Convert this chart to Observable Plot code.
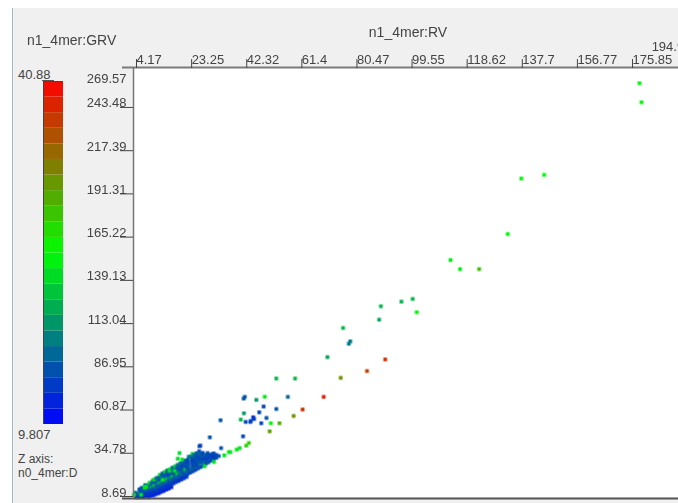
<!DOCTYPE html>
<html><head><meta charset="utf-8">
<script src="https://cdn.jsdelivr.net/npm/d3@7"></script>
<script src="https://cdn.jsdelivr.net/npm/@observablehq/plot@0.6"></script>
<style>
body{margin:0;width:678px;height:503px;position:relative;overflow:hidden;background:#fff;font-family:"Liberation Sans",Arial,sans-serif;color:#444}
#panel{position:absolute;left:12px;top:8px;width:666px;height:495px;background:#f0f0f0;border-left:1px solid #a9b6c8}
.lbl{position:absolute;white-space:nowrap;font-size:13px;line-height:1;color:#444}
</style></head><body>
<div id="panel"></div>
<div id="main" style="position:absolute;left:0;top:0"></div>
<div id="legend" style="position:absolute;left:43px;top:81px"></div>
<div class="lbl" style="left:27px;top:33px;font-size:14px">n1_4mer:GRV</div>
<div class="lbl" style="left:308px;width:200px;text-align:center;top:25px;font-size:14px">n1_4mer:RV</div>
<div class="lbl" style="left:18px;top:68px">40.88</div>
<div style="position:absolute;left:42px;top:80px;width:12px;height:1px;background:#555"></div>
<div class="lbl" style="left:18px;top:428px">9.807</div>
<div class="lbl" style="left:18px;top:453px;font-size:12px">Z axis:</div>
<div class="lbl" style="left:18px;top:467px;font-size:12px">n0_4mer:D</div>
<script>
// axis labels
const xTicks = [4.17, 23.25, 42.32, 61.4, 80.47, 99.55, 118.62, 137.7, 156.77, 175.85, 194.92];
const yTicks = [8.69, 34.78, 60.87, 86.95, 113.04, 139.13, 165.22, 191.31, 217.39, 243.48, 269.57];
const zRange = [9.807, 40.88];

// scattered points [RV, GRV, D]
const sparse = [
[179.3,258.7,25],[180.0,247.2,25],[146.3,203.4,25],[138.4,201.2,25],[133.7,167.7,25],
[113.9,152.0,24],[117.2,146.5,24],[123.8,146.5,29],[100.8,128.5,21],[96.9,126.9,21],
[89.8,124.1,21],[102.2,120.5,25],[89.2,116.0,20],[76.7,111.0,21],[79.2,102.9,17],
[78.7,101.5,17],[71.3,93.4,20],[91.3,92.0,38],[85.0,85.0,37],[75.9,80.9,32],
[53.6,80.5,21],[60.1,80.5,21],[70.0,69.4,39],[46.7,67.6,19],[49.6,69.5,24],
[57.6,69.4,16],[42.3,68.4,15],[42.7,69.4,15],[49.2,63.6,14],[53.6,62.1,15],
[62.7,61.8,38],[42.4,59.5,19],[47.7,60.1,14],[59.6,57.9,32],[45.6,57.1,13],
[45.9,56.1,13],[41.3,55.7,21],[43.0,54.3,14],[44.6,54.3,14],[44.8,54.9,14],
[50.2,56.7,15],[48.4,53.5,14],[51.7,53.5,25],[54.7,53.5,30],[51.3,48.6,31],
[34.3,55.3,15],[30.6,45.0,15],[42.1,45.6,14],[27.3,40.0,14],[44.1,41.6,28],
[43.2,40.0,28],[40.9,38.5,24],[39.9,37.6,24],[37.7,36.1,24],[37.2,36.1,24],
[35.6,34.1,24],[32.0,30.1,24],[28.8,27.6,24],[20.1,35.5,23],[19.5,32.1,23],
[22.6,30.5,14],[24.6,30.5,14],[16.6,24.8,23],[18.4,24.8,23],[14.3,19.4,24],
[8.0,14.7,24],[8.6,15.3,24],[4.3,10.3,24],[6.8,10.3,24],[27.0,39.6,14],
[34.5,38.5,15],[29.8,33.5,14],[31.5,34.7,14]
];

// dense cluster near the origin [RV, GRV, D]
const cluster = [
[5.0,9.0,13],[5.3,10.3,14],[4.8,11.6,16],[5.9,8.8,12],[6.1,9.8,13],[5.7,11.1,15],[6.3,12.5,24],[6.2,13.6,15],
[6.8,9.3,12],[7.0,10.6,13],[6.6,11.9,14],[7.2,13.1,16],[7.0,14.5,14],
[7.6,8.9,12],[7.9,10.0,13],[7.4,11.4,14],[7.8,12.8,15],[8.2,16.2,16],
[8.5,9.5,12],[8.3,10.9,13],[8.7,12.2,14],[8.4,13.7,16],[8.9,14.8,24],
[9.4,8.9,12],[9.2,10.3,13],[9.6,11.6,13],[9.1,13.0,15],[9.5,14.5,17],[9.3,16.1,14],[9.7,17.6,24],
[10.2,9.7,12],[10.0,11.0,13],[10.4,12.5,14],[10.1,13.9,15],[10.6,15.4,22],[10.4,17.0,15],[10.8,18.6,16],
[11.1,10.0,12],[10.9,11.6,13],[11.3,13.2,14],[11.0,14.7,15],[11.4,16.1,24],[11.6,17.8,14],[11.2,19.5,23],
[12.0,10.7,12],[11.8,12.1,13],[12.2,13.6,14],[11.9,15.3,16],[12.3,17.0,18],[12.5,18.7,15],[12.1,20.4,17],
[12.9,11.3,12],[12.7,12.9,13],[13.1,14.4,14],[12.8,16.0,15],[13.2,17.6,24],[13.4,19.3,14],[13.0,21.0,15],[13.3,22.4,24],
[13.7,12.0,12],[13.5,13.5,13],[13.9,15.1,14],[13.6,16.8,16],[14.0,18.5,20],[14.2,20.2,15],[13.9,21.9,16],[14.3,23.3,14],
[14.6,12.6,12],[14.4,14.2,13],[14.8,15.9,14],[14.5,17.4,15],[14.9,19.1,17],[15.1,20.8,14],[14.8,22.5,15],[15.0,24.2,23],
[15.5,13.4,12],[15.3,14.9,13],[15.7,16.5,14],[15.4,18.2,16],[15.8,20.0,24],[16.0,21.7,15],[15.7,23.3,14],[15.9,25.0,16],
[16.4,14.1,12],[16.2,15.7,13],[16.6,17.3,14],[16.3,19.1,15],[16.7,20.6,18],[16.9,22.3,14],[16.6,24.0,15],[16.8,25.8,24],
[17.3,14.9,12],[17.1,16.4,13],[17.5,18.0,14],[17.2,19.7,16],[17.6,21.5,23],[17.8,23.2,15],[17.5,24.9,14],[17.7,26.7,16],
[18.0,17.2,13],[18.4,18.9,14],[18.1,20.5,15],[18.5,22.4,17],[18.7,24.0,14],[18.4,25.8,15],[18.6,27.6,23],
[18.9,18.0,13],[19.3,19.6,14],[19.0,21.4,16],[19.4,23.1,24],[19.6,24.8,15],[19.3,26.6,14],[19.5,28.4,16],
[19.8,18.7,13],[20.2,20.4,14],[19.9,22.1,15],[20.3,24.0,18],[20.5,25.7,14],[20.2,27.5,15],[20.4,29.3,17],
[20.7,19.5,13],[21.1,21.2,14],[20.8,22.9,16],[21.2,24.7,15],[21.4,26.5,15],[21.1,28.3,14],[21.3,30.1,16],[21.0,31.6,24],
[21.6,20.3,13],[22.0,22.0,14],[21.7,23.8,15],[22.1,25.7,23],[22.3,27.4,14],[22.0,29.2,15],[22.2,31.0,16],
[22.5,21.1,13],[22.9,22.8,14],[22.6,24.5,16],[23.0,26.3,15],[23.2,28.1,15],[22.9,29.9,14],[23.1,31.7,15],[23.3,33.3,17],
[23.8,23.7,14],[23.5,25.4,15],
[24.7,24.5,14],[24.4,26.4,16],[24.6,28.2,14],[24.3,30.0,15],[24.5,31.8,14],[24.2,33.6,16],[24.6,35.0,23],
[25.6,25.3,14],[25.3,27.1,15],[25.5,28.9,15],[25.2,30.7,14],[25.4,32.5,15],[25.1,34.3,16],
[26.5,26.2,15],[26.2,28.1,14],[26.4,29.9,14],[26.1,31.7,15],[26.3,33.5,14],[26.0,35.4,15],
[27.4,27.1,14],[27.1,29.3,16],[27.3,31.1,15],[27.0,32.9,14],[27.2,34.8,16],[26.9,36.6,15],
[28.3,27.9,14],[28.0,30.2,15],[28.2,32.0,14],[27.9,33.8,15],[28.1,35.6,14],
[29.2,29.0,14],[29.2,30.8,15],[28.9,32.6,14],[29.1,34.4,15],
[30.1,29.9,15],[29.8,32.0,14],[30.1,33.8,14],[29.8,35.5,15],
[31.0,30.9,14],[31.0,32.7,15],[30.7,34.5,14],
[31.9,31.8,15],[31.6,33.7,13],[31.9,35.3,15],
[32.8,32.6,14],[32.8,34.4,14],
[33.7,33.7,15]
];

const toObj = a => a.map(([x, y, z]) => ({x, y, z}));
const pts = toObj(cluster).concat(toObj(sparse));

const colorSpec = {type: "linear", domain: [zRange[0], (zRange[0] + zRange[1]) / 2, zRange[1]],
  range: ["#0000ff", "#00ff00", "#ff0000"], interpolate: "rgb"};

const xMax = 192.8, yMax = 268.2;
const font = "'Liberation Sans', Arial, sans-serif";

const main = Plot.plot({
  width: 678, height: 503,
  marginLeft: 133, marginRight: 0, marginTop: 67, marginBottom: 6,
  style: {background: "transparent", fontFamily: font, fontSize: "13px", color: "#444", overflow: "visible"},
  x: {domain: [xTicks[0], xMax], axis: null},
  y: {domain: [yTicks[0], yMax], axis: null},
  color: colorSpec,
  marks: [
    Plot.frame({fill: "white", stroke: null}),
    Plot.dot(pts, {x: "x", y: "y", fill: "z", symbol: "square", r: 2.1}),
    Plot.ruleY([yMax], {insetLeft: -11, stroke: "#7a7a7a", strokeWidth: 2}),
    Plot.ruleY([yTicks[0]], {insetLeft: -11, stroke: "#555", strokeWidth: 2, dy: 1}),
    Plot.ruleX([xTicks[0]], {stroke: "#777", strokeWidth: 1.5}),
    Plot.axisX(xTicks.slice(0, -1), {anchor: "top", label: null, tickSize: 9, tickPadding: -5, textAnchor: "start",
      dx: 3, lineAnchor: "bottom", stroke: "#444", fill: "#444", tickFormat: d => String(d)}),
    Plot.text([xTicks[xTicks.length - 1]], {x: d => d, text: d => String(d), frameAnchor: "top",
      textAnchor: "start", lineAnchor: "bottom", dx: -33, dy: -17, fill: "#444"}),
    Plot.axisY(yTicks.slice(0, -1), {anchor: "left", label: null, tickSize: 13, tickPadding: -6, lineAnchor: "bottom",
      dy: -1, stroke: "#444", fill: "#444", tickFormat: d => String(d)}),
    Plot.text([yTicks[yTicks.length - 1]], {text: d => String(d), frameAnchor: "top-left",
      textAnchor: "end", lineAnchor: "top", dx: -7, dy: 6, fill: "#444"})
  ]
});
main.querySelectorAll('g[aria-label="dot"]').forEach(g => g.style.filter = "blur(0.35px)");
document.getElementById("main").append(main);

// colour bar legend
const nSteps = 22;
const steps = d3.range(nSteps).map(i => [
  zRange[0] + i * (zRange[1] - zRange[0]) / nSteps,
  zRange[0] + (i + 1) * (zRange[1] - zRange[0]) / nSteps]);
const legend = Plot.plot({
  width: 20, height: 343, margin: 0,
  style: {background: "transparent"},
  x: {axis: null}, y: {domain: zRange, axis: null},
  color: colorSpec,
  marks: [
    Plot.rect(steps, {y1: d => d[0], y2: d => d[1], fill: d => (d[0] + d[1]) / 2}),
    Plot.frame({stroke: "#444"})
  ]
});
document.getElementById("legend").append(legend);
</script>
</body></html>
